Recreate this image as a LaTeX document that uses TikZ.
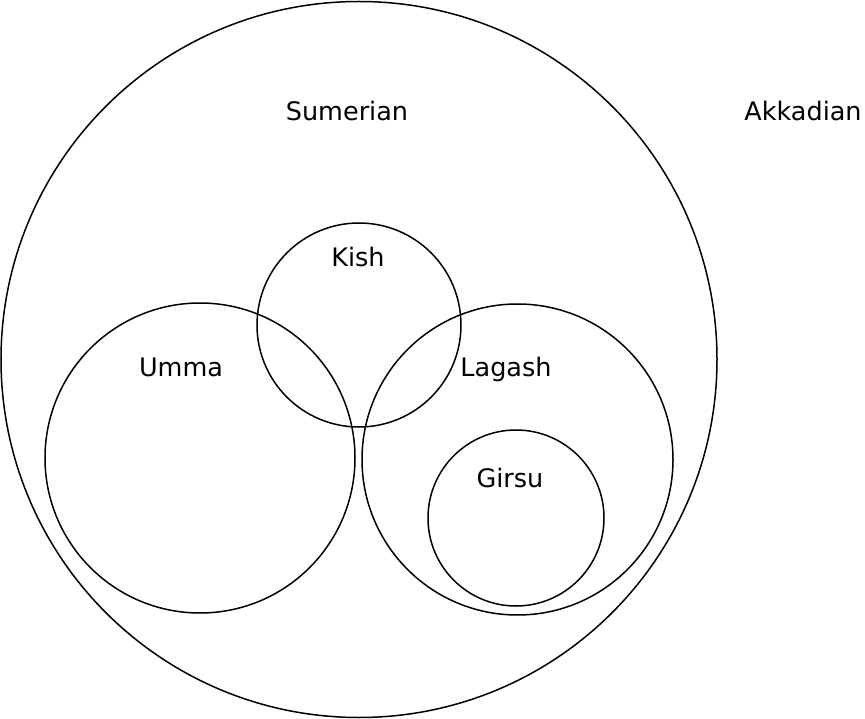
\documentclass[tikz,border=0pt]{standalone}
\usepackage{fontspec}
\setmainfont{DejaVu Sans}
\begin{document}
\begin{tikzpicture}[x=1pt,y=-1pt,
  set/.style={draw=black,line width=1.5pt,circle,inner sep=0pt},
  lbl/.style={font=\fontsize{25.5}{29}\selectfont,inner sep=0pt,anchor=base}]
\useasboundingbox (0,0) rectangle (865,719);
\node[set,minimum size=716pt] (sumerian) at (359,359.5) {};
\node[set,minimum size=204pt] (kish) at (359,325) {};
\node[set,minimum size=310pt] (umma) at (200,458) {};
\node[set,minimum size=311pt] (lagash) at (517.5,459.5) {};
\node[set,minimum size=176pt] (girsu) at (516,518) {};
\node[lbl] (tsum) at (347,121) {Sumerian};
\node[lbl] (takk) at (803,121) {Akkadian};
\node[lbl] (tkish) at (358,267) {Kish};
\node[lbl] (tumma) at (181,377) {Umma};
\node[lbl] (tlag) at (506,377) {Lagash};
\node[lbl] (tgir) at (510,487) {Girsu};
\end{tikzpicture}
\end{document}
